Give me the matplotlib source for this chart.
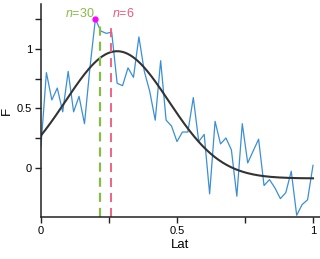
import numpy as np
import matplotlib
matplotlib.use("Agg")
import matplotlib.pyplot as plt

plt.rcParams['font.family'] = ['Liberation Sans', 'DejaVu Sans']
plt.rcParams['mathtext.fontset'] = 'custom'
plt.rcParams['mathtext.it'] = 'Liberation Sans:italic'
plt.rcParams['mathtext.rm'] = 'Liberation Sans'

lat = np.linspace(0, 1, 51)
f_vals = [0.18, 0.80, 0.57, 0.67, 0.47, 0.81, 0.47, 0.60, 0.37, 0.84,
          1.25, 1.15, 1.13, 1.14, 0.71, 0.69, 0.84, 0.76, 1.10, 0.81,
          0.64, 0.40, 0.90, 0.40, 0.35, 0.22, 0.30, 0.30, 0.59, 0.22,
          0.28, -0.22, 0.39, 0.20, 0.25, 0.15, -0.24, 0.37, 0.04, 0.14,
          0.24, -0.15, -0.10, -0.17, -0.26, -0.21, -0.03, -0.40, -0.31, -0.27,
          0.02]

# gaussian fit (offset, amplitude, centre, width)
fit_offset = -0.09
fit_amp = 1.07
fit_mu = 0.28
fit_sigma = 0.19

peak_idx = 10
n30_lat = 0.217
n6_lat = 0.257

fig = plt.figure(figsize=(3.2, 2.59), dpi=100)
ax = fig.add_axes([0.128, 0.162, 0.872, 0.823])

ax.plot(lat, f_vals, color='#3b8fd5', lw=0.9)
xs = np.linspace(0, 1, 200)
ax.plot(xs, fit_offset + fit_amp * np.exp(-(xs - fit_mu) ** 2 / (2 * fit_sigma ** 2)),
        color='#333333', lw=1.5)
ax.plot(lat[peak_idx], f_vals[peak_idx], 'o', color='#ff00ff', ms=3.5, zorder=5)

ax.vlines(n30_lat, -0.415, 1.22, colors='#86bb45', linestyles=(0, (4.1, 2.7)), lw=1.6)
ax.vlines(n6_lat, -0.415, 1.22, colors='#f2577a', linestyles=(0, (5, 3.3)), lw=1.3)
ax.text(0.197, 1.30, r'$\it{n}$=30', color='#86bb45', fontsize=9, ha='right', va='center')
ax.text(0.26, 1.30, r'$\it{n}$=6', color='#f2577a', fontsize=9, ha='left', va='center')

ax.set_xlim(0, 1.0257)
ax.set_ylim(-0.415, 1.378)
ax.set_xticks([0, 0.25, 0.5, 0.75, 1])
ax.set_xticklabels(['0', '', '0.5', '', '1'])
ax.set_yticks([0, 0.25, 0.5, 0.75, 1, 1.25])
ax.set_yticklabels(['0', '', '0.5', '', '1', ''])
ax.tick_params(labelsize=8, length=4, width=1, color='#222222', pad=2.5)
for s in ['top', 'right']:
    ax.spines[s].set_visible(False)
for s in ['left', 'bottom']:
    ax.spines[s].set_linewidth(1.1)
    ax.spines[s].set_color('#222222')
ax.set_xlabel('Lat', fontsize=9.5, labelpad=2)
ax.set_ylabel('F', fontsize=9.5, labelpad=3)

fig.savefig('out.png', dpi=100)
